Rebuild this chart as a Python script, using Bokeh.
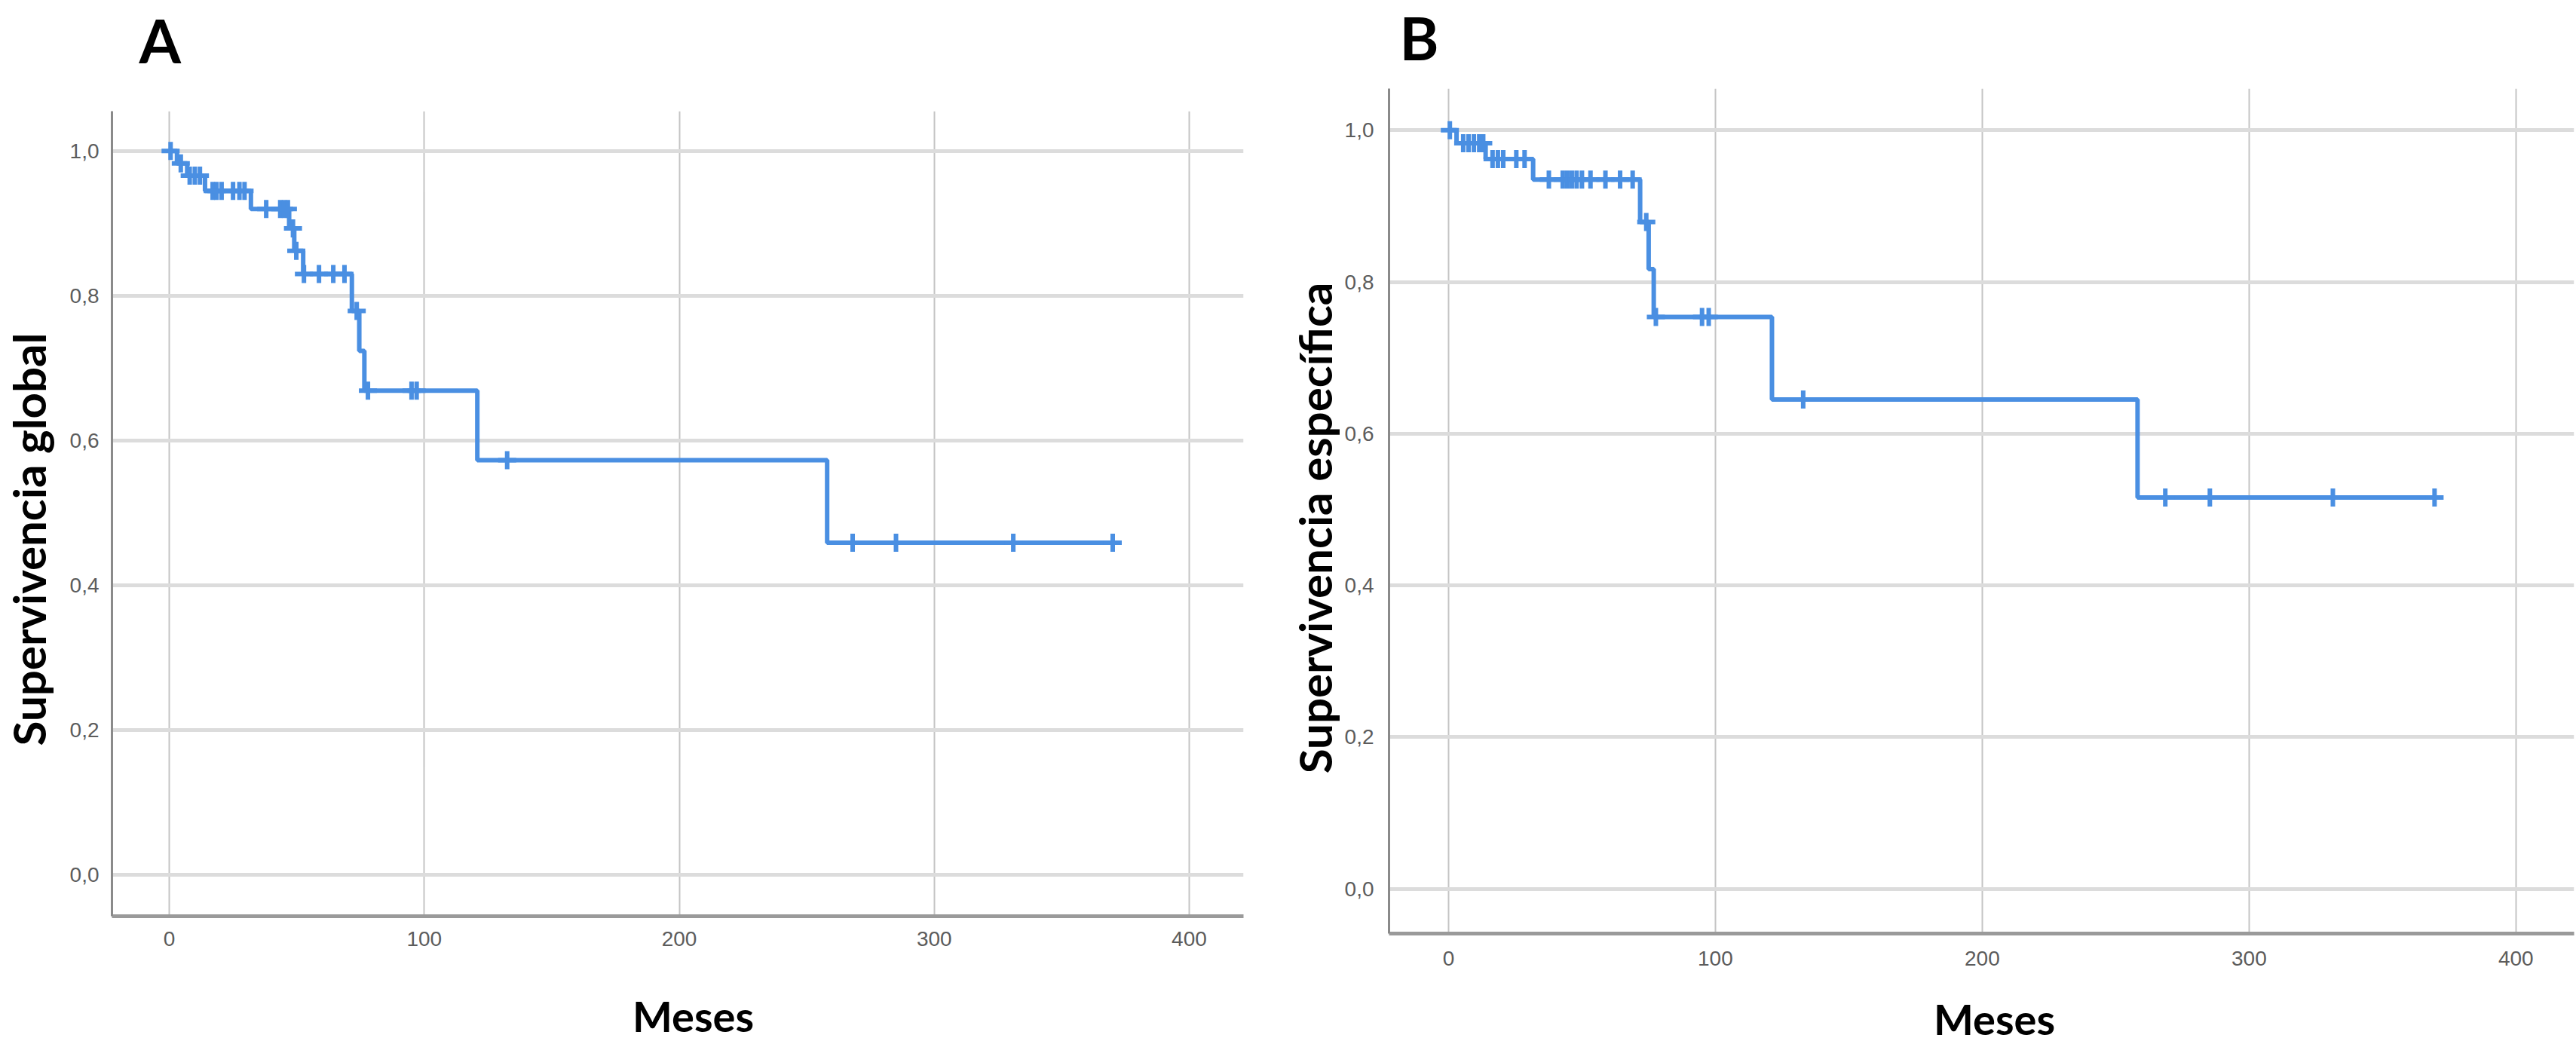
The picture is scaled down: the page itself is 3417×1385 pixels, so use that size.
from bokeh.plotting import figure
from bokeh.layouts import row, column
from bokeh.models import Range1d, FixedTicker, CustomJSTickFormatter
from bokeh.core.properties import value
from bokeh.embed import file_html
from bokeh.resources import INLINE
import numpy as np

# Kaplan-Meier estimates: event times (months) and survival just after each event
a_event_months = [3, 7, 14, 32, 47, 49, 52.5, 71.6, 74.5, 76.5, 120.8, 258]
a_survival = [0.983, 0.966, 0.945, 0.920, 0.893, 0.862, 0.830, 0.779, 0.724, 0.669, 0.573, 0.459]
a_censored = [0.5, 4.5, 8, 10, 12, 17, 18.5, 20.5, 25, 27.5, 29.5, 38, 43.5, 45, 46.5,
              48.5, 49.8, 52.8, 58.7, 64.3, 68.7, 73.5, 77.9, 95, 97, 132.5,
              268, 285, 331, 370]

b_event_months = [3, 13.9, 31.7, 71.8, 75, 76.9, 121.2, 258.2]
b_survival = [0.983, 0.962, 0.935, 0.879, 0.817, 0.754, 0.645, 0.516]
b_censored = [0.5, 5.5, 7.5, 9.5, 11.5, 13, 16.5, 18.5, 20.5, 25.4, 28.5,
              37.6, 42.8, 44.5, 46.2, 48, 50, 53.2, 58.8, 64.3, 69, 74.1, 77.7,
              95, 97.5, 132.9, 268.6, 285.3, 331.4, 369.5]

x_ticks = [0, 100, 200, 300, 400]
y_ticks = [0.0, 0.2, 0.4, 0.6, 0.8, 1.0]

CURVE = "#4a8fe2"


def text_strip(w, h, text, x, y, size, angle=0.0, align="left"):
    # a blank canvas in pixel coordinates (y grows downward) holding one text,
    # anchored at the vertical middle of its letters
    p = figure(width=w, height=h, x_range=Range1d(0, w), y_range=Range1d(h, 0),
               output_backend="svg", toolbar_location=None,
               x_axis_type=None, y_axis_type=None, min_border=0)
    p.outline_line_color = None
    p.grid.visible = False
    p.text(x=[x], y=[y], text=[text], angle=angle, text_align=align,
           text_baseline="middle", text_font=value("Lato"),
           text_font_style="bold", text_font_size=value(size), text_color="black")
    return p


def km_plot(events, surv, censored, width, height, borders, xr, yr,
            y_standoff, x_standoff):
    left, right, top, bottom = borders
    p = figure(width=width, height=height, output_backend="svg", toolbar_location=None,
               x_range=Range1d(*xr), y_range=Range1d(*yr),
               min_border_left=left, min_border_right=right,
               min_border_top=top, min_border_bottom=bottom)
    p.outline_line_color = None
    p.background_fill_color = "white"

    # step curve, running to the last censored observation
    end = max(censored)
    xs = [0] + list(events) + [end]
    ys = [1.0] + list(surv) + [surv[-1]]
    p.step(xs, ys, mode="after", line_color=CURVE, line_width=6)

    # censoring marks sit on the curve value at their time
    ev = np.array(events)
    sv = np.array([1.0] + list(surv))
    cy = [sv[np.searchsorted(ev, t, side="right")] for t in censored]
    p.scatter(censored, cy, marker="cross", size=24, line_width=6, line_color=CURVE)

    p.xaxis.ticker = FixedTicker(ticks=x_ticks)
    p.yaxis.ticker = FixedTicker(ticks=y_ticks)
    p.yaxis.formatter = CustomJSTickFormatter(code="return tick.toFixed(1).replace('.', ',');")

    for ax in (p.xaxis[0], p.yaxis[0]):
        ax.major_tick_line_color = None
        ax.minor_tick_line_color = None
        ax.major_label_text_font = "Liberation Sans"
        ax.major_label_text_font_size = "28px"
        ax.major_label_text_color = "#5c5c5c"

    p.yaxis.axis_line_color = "#8a8a8a"
    p.yaxis.axis_line_width = 3
    p.xaxis.axis_line_color = "#9a9a9a"
    p.xaxis.axis_line_width = 5
    p.yaxis.major_label_standoff = y_standoff
    p.xaxis.major_label_standoff = x_standoff

    p.ygrid.grid_line_color = "#dcdcdc"
    p.ygrid.grid_line_width = 5
    p.xgrid.grid_line_color = "#c4c4c4"
    p.xgrid.grid_line_width = 2
    return p


# ---- panel A: overall survival (frame x 148..1649, y 147..1215)
a_ylab = text_strip(80, 1385, "Supervivencia global", 37, 715, "60px",
                    angle=np.pi / 2, align="center")
a_top = text_strip(1620, 100, "A", 104, 52, "80px")
a_main = km_plot(a_event_months, a_survival, a_censored, 1620, 1195,
                 (68, 51, 47, 80), (-22.5, 421.3), (-0.057, 1.055), 11, 14)
a_bot = text_strip(1620, 90, "Meses", 839, 52, "56px", align="center")
panel_a = row(column(a_ylab), column(row(a_top), row(a_main), row(a_bot), spacing=0), spacing=0)

# ---- panel B: cause-specific survival (frame x 1842..3414, y 117..1238)
b_ylab = text_strip(80, 1385, "Supervivencia específica", 43, 700, "60px",
                    angle=np.pi / 2, align="center")
b_top = text_strip(1637, 100, "B", 76, 49, "79px")
b_main = km_plot(b_event_months, b_survival, b_censored, 1637, 1205,
                 (62, 3, 17, 67), (-22.3, 421.8), (-0.059, 1.055), 14, 17)
b_bot = text_strip(1637, 80, "Meses", 865, 46, "56px", align="center")
panel_b = row(column(b_ylab), column(row(b_top), row(b_main), row(b_bot), spacing=0), spacing=0)

layout = row(column(panel_a), column(panel_b), spacing=0)
open("out.html", "w").write(file_html(layout, INLINE))
